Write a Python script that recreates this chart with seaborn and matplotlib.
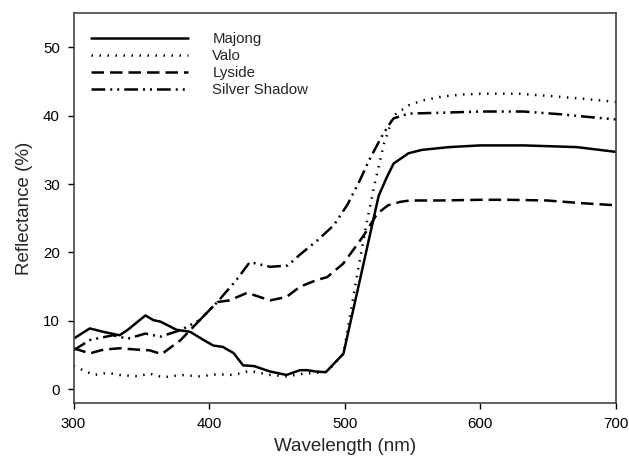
import matplotlib
matplotlib.use("Agg")
import matplotlib.pyplot as plt
import seaborn as sns
import pandas as pd

# ---- data ----
majong_wl = [300, 312, 322, 334, 340, 353, 359, 364, 376, 386, 396, 403, 410, 418, 425, 433, 445, 457, 467, 472, 479, 486, 499, 525, 531, 536, 547, 557, 577, 600, 632, 671, 700]
majong_r  = [7.4, 8.9, 8.4, 7.9, 8.7, 10.8, 10.1, 9.9, 8.7, 8.4, 7.2, 6.4, 6.2, 5.3, 3.5, 3.4, 2.6, 2.1, 2.8, 2.8, 2.6, 2.5, 5.2, 28.3, 31.0, 33.0, 34.5, 35.0, 35.4, 35.65, 35.65, 35.4, 34.7]

valo_wl = [300, 315, 325, 334, 347, 356, 366, 379, 393, 406, 418, 430, 445, 457, 470, 479, 487, 499, 510, 516, 522, 529, 536, 547, 557, 572, 588, 600, 628, 649, 674, 690, 700]
valo_r  = [3.4, 2.1, 2.4, 2.1, 1.9, 2.3, 1.75, 2.1, 1.9, 2.2, 2.1, 2.7, 2.1, 1.9, 2.3, 2.4, 2.6, 5.2, 17.7, 24.2, 30.0, 36.0, 40.0, 41.5, 42.2, 42.8, 43.1, 43.2, 43.2, 42.9, 42.5, 42.2, 42.0]

lyside_wl = [300, 312, 322, 334, 347, 356, 365, 379, 393, 406, 415, 428, 445, 457, 467, 479, 487, 499, 514, 524, 532, 541, 548, 570, 600, 620, 649, 675, 700]
lyside_r  = [6.0, 5.25, 5.8, 6.0, 5.8, 5.7, 5.15, 7.2, 10.1, 12.75, 13.0, 14.1, 13.0, 13.5, 15.0, 15.95, 16.4, 18.4, 22.5, 25.7, 26.9, 27.4, 27.6, 27.6, 27.7, 27.7, 27.6, 27.2, 26.9]

silver_wl = [300, 312, 329, 340, 353, 364, 379, 393, 406, 420, 430, 445, 458, 467, 480, 492, 502, 511, 518, 526, 532, 536, 547, 567, 600, 632, 659, 680, 700]
silver_r  = [5.7, 7.2, 7.9, 7.4, 8.15, 7.7, 8.65, 10.1, 12.75, 15.95, 18.6, 17.9, 18.1, 19.7, 21.8, 24.0, 27.0, 30.5, 33.5, 36.5, 38.5, 39.6, 40.3, 40.4, 40.6, 40.6, 40.2, 39.8, 39.45]

names = ["Majong", "Valo", "Lyside", "Silver Shadow"]
xticks = [300, 400, 500, 600, 700]
yticks = [0, 10, 20, 30, 40, 50]

frames = []
for n, wl, r in zip(names, [majong_wl, valo_wl, lyside_wl, silver_wl],
                    [majong_r, valo_r, lyside_r, silver_r]):
    frames.append(pd.DataFrame({"Wavelength": wl, "Reflectance": r, "Cultivar": n}))
df = pd.concat(frames, ignore_index=True)

sns.set_style("white")
plt.rcParams['font.family'] = ['Liberation Sans', 'DejaVu Sans']

fig = plt.figure(figsize=(6.29, 4.61), dpi=100)
ax = fig.add_axes([0.1169, 0.1258, 0.8625, 0.846])

dashes = {
    "Majong": "",
    "Valo": (0.6, 2.6),
    "Lyside": (5, 2.4),
    "Silver Shadow": (5.5, 2, 0.8, 2, 0.8, 2),
}
sns.lineplot(data=df, x="Wavelength", y="Reflectance", hue="Cultivar", style="Cultivar",
             hue_order=names, style_order=names,
             palette=["black"] * 4, dashes=dashes, linewidth=1.8, ax=ax,
             estimator=None, sort=False)

ax.set_xlim(300, 700)
ax.set_ylim(-2, 55)
ax.set_xticks(xticks)
ax.set_yticks(yticks)
ax.tick_params(axis="both", direction="out", length=4.3, width=1, labelsize=10.8,
               colors="black", left=True, bottom=True, pad=5.5)
for s in ax.spines.values():
    s.set_color("#444444")
    s.set_linewidth(1.2)
ax.set_xlabel("Wavelength (nm)", fontsize=13.5, labelpad=5)
ax.set_ylabel("Reflectance (%)", fontsize=13.5, labelpad=7)

leg = ax.legend(loc="upper left", bbox_to_anchor=(0.021, 0.967), frameon=False,
                handlelength=6.5, handletextpad=1.6, labelspacing=0.2, fontsize=10.8,
                borderaxespad=0)
for h in leg.get_lines():
    h.set_linewidth(1.8)

fig.savefig("out.png", dpi=100)
